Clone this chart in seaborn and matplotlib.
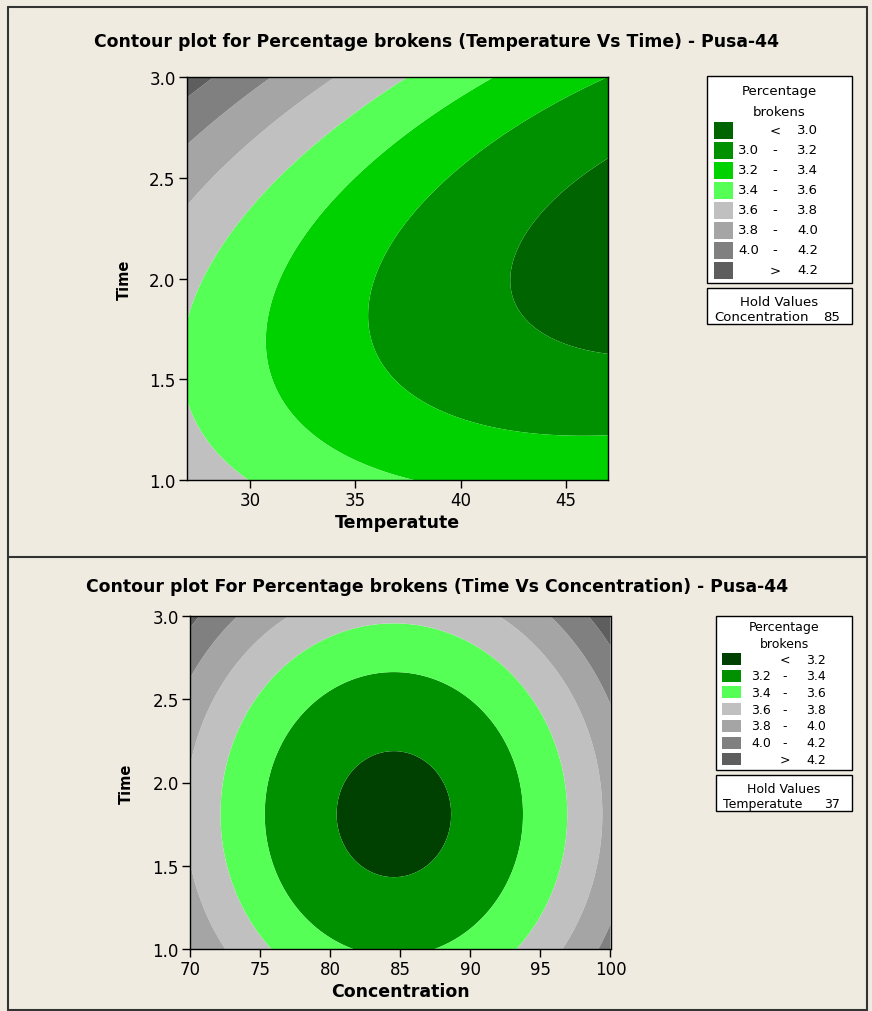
import numpy as np
import matplotlib
matplotlib.use("Agg")
import matplotlib.pyplot as plt
from matplotlib.patches import Rectangle
from matplotlib.lines import Line2D
import seaborn as sns

# ---- response-surface models (coded factors in -1..1) ----
# y = b0 + b1*x1 + b2*x2 + b11*x1^2 + b22*x2^2 + b12*x1*x2
temp_time_coef = [3.159, -0.3635, 0.106, 0.124, 0.360, -0.187]  # x1 = Temperature, x2 = Time
conc_time_coef = [3.164, 0.040, 0.130, 0.660, 0.342, 0.000]     # x1 = Concentration, x2 = Time

temp_limits = [27.0, 47.0]
conc_limits = [70.0, 100.0]
time_limits = [1.0, 3.0]

hold_concentration = 85
hold_temperature = 37

# ---- contour classes ----
top_breaks = [3.0, 3.2, 3.4, 3.6, 3.8, 4.0, 4.2]
top_colors = ["#006400", "#009100", "#00D200", "#55FF55",
              "#C0C0C0", "#A5A5A5", "#808080", "#5E5E5E"]
bottom_breaks = [3.2, 3.4, 3.6, 3.8, 4.0, 4.2]
bottom_colors = ["#004000", "#009100", "#55FF55",
                 "#C0C0C0", "#A5A5A5", "#808080", "#5E5E5E"]

temp_ticks = [30, 35, 40, 45]
conc_ticks = [70, 75, 80, 85, 90, 95, 100]
time_ticks = [1.0, 1.5, 2.0, 2.5, 3.0]

top_title = "Contour plot for Percentage brokens (Temperature Vs Time) - Pusa-44"
bottom_title = "Contour plot For Percentage brokens (Time Vs Concentration) - Pusa-44"

BG = "#EFEBE1"
W, H = 872, 1012

sns.set_theme(style="white")
plt.rcParams["font.family"] = ["DejaVu Sans"]
plt.rcParams["axes.linewidth"] = 1.0
plt.rcParams["text.color"] = "black"
plt.rcParams["axes.labelcolor"] = "black"
plt.rcParams["xtick.color"] = "black"
plt.rcParams["ytick.color"] = "black"

fig = plt.figure(figsize=(W / 100, H / 100), dpi=100, facecolor=BG)


def fx(x):
    return x / W


def fy(y):
    return 1 - y / H


def surface(coef, lim1, lim2, n=400):
    g1 = np.linspace(lim1[0], lim1[1], n)
    g2 = np.linspace(lim2[0], lim2[1], n)
    X1, X2 = np.meshgrid(g1, g2)
    c1 = (lim1[0] + lim1[1]) / 2
    h1 = (lim1[1] - lim1[0]) / 2
    c2 = (lim2[0] + lim2[1]) / 2
    h2 = (lim2[1] - lim2[0]) / 2
    u = (X1 - c1) / h1
    v = (X2 - c2) / h2
    b0, b1, b2, b11, b22, b12 = coef
    Z = b0 + b1 * u + b2 * v + b11 * u ** 2 + b22 * v ** 2 + b12 * u * v
    return X1, X2, Z


def contour_panel(rect, coef, xlim, breaks, colors, xticks, xlabel, ylabel_x):
    ax = fig.add_axes(rect)
    X, Y, Z = surface(coef, xlim, time_limits)
    levels = [min(Z.min(), breaks[0]) - 1] + list(breaks) + [max(Z.max(), breaks[-1]) + 1]
    ax.contourf(X, Y, Z, levels=levels, colors=colors, antialiased=True)
    ax.set_xlim(xlim)
    ax.set_ylim(time_limits)
    ax.set_xticks(xticks)
    ax.set_xticklabels([str(t) for t in xticks])
    ax.set_yticks(time_ticks)
    ax.set_yticklabels([f"{t:.1f}" for t in time_ticks])
    ax.tick_params(axis="both", direction="out", length=6, width=1, colors="black",
                   labelsize=12, pad=2, bottom=True, left=True)
    for s in ax.spines.values():
        s.set_color("black")
        s.set_linewidth(1.0)
    ax.set_xlabel(xlabel, fontsize=12.5, fontweight="bold", labelpad=3)
    ax.set_ylabel("Time", fontsize=10.5, fontweight="bold")
    ax.yaxis.set_label_coords(ylabel_x, 0.5)
    return ax


# top panel : Temperature vs Time
ax1 = contour_panel([fx(186.7), fy(481), (608.3 - 186.7) / W, (481 - 78.3) / H],
                    temp_time_coef, temp_limits, top_breaks, top_colors,
                    temp_ticks, "Temperatute", -0.129)
# bottom panel : Concentration vs Time
ax2 = contour_panel([fx(190), fy(950), (610.5 - 190) / W, (950 - 617) / H],
                    conc_time_coef, conc_limits, bottom_breaks, bottom_colors,
                    conc_ticks, "Concentration", -0.134)

fig.text(fx(436), fy(42), top_title, ha="center", va="center",
         fontsize=12.4, fontweight="bold")
fig.text(fx(437), fy(587), bottom_title, ha="center", va="center",
         fontsize=12.4, fontweight="bold")


def box(x0, y0, x1, y1):
    fig.patches.append(Rectangle((fx(x0), fy(y1)), (x1 - x0) / W, (y1 - y0) / H,
                                 transform=fig.transFigure, facecolor="white",
                                 edgecolor="black", linewidth=1.0, zorder=3))


def legend(x0, y0, x1, y1, head_y, row0, step, sw_h, cols, breaks, colors,
           hold_box, hold_name, hold_value, fs=9.5):
    box(x0, y0, x1, y1)
    cx = (x0 + x1) / 2
    fig.text(fx(cx), fy(head_y[0]), "Percentage", ha="center", va="center", fontsize=fs, zorder=4)
    fig.text(fx(cx), fy(head_y[1]), "brokens", ha="center", va="center", fontsize=fs, zorder=4)
    sw_x, sw_w, left_r, dash_c, right_r = cols
    n = len(colors)
    for i in range(n):
        y = row0 + step * i
        fig.patches.append(Rectangle((fx(sw_x), fy(y + sw_h / 2)), sw_w / W, sw_h / H,
                                     transform=fig.transFigure, facecolor=colors[i],
                                     edgecolor="none", zorder=4))
        if i == 0:
            sym, lo, hi = "<", "", f"{breaks[0]:.1f}"
        elif i == n - 1:
            sym, lo, hi = ">", "", f"{breaks[-1]:.1f}"
        else:
            sym, lo, hi = "-", f"{breaks[i - 1]:.1f}", f"{breaks[i]:.1f}"
        fig.text(fx(left_r), fy(y), lo, ha="right", va="center", fontsize=fs, zorder=5)
        fig.text(fx(dash_c), fy(y), sym, ha="center", va="center", fontsize=fs, zorder=5)
        fig.text(fx(right_r), fy(y), hi, ha="right", va="center", fontsize=fs, zorder=5)
    hx0, hy0, hx1, hy1 = hold_box
    box(hx0, hy0, hx1, hy1)
    fig.text(fx((hx0 + hx1) / 2), fy(hy0 + (hy1 - hy0) * 0.38), "Hold Values",
             ha="center", va="center", fontsize=fs, zorder=5)
    fig.text(fx(hx0 + 7), fy(hy0 + (hy1 - hy0) * 0.8), hold_name,
             ha="left", va="center", fontsize=fs, zorder=5)
    fig.text(fx(hx1 - 12), fy(hy0 + (hy1 - hy0) * 0.8), str(hold_value),
             ha="right", va="center", fontsize=fs, zorder=5)


legend(707, 77, 852, 284, (92, 112), 131, 20, 17,
       (714, 19, 759, 775, 818), top_breaks, top_colors,
       (707, 289, 852, 325), "Concentration", hold_concentration, fs=9.5)
legend(716, 617, 852, 771, (628, 644), 660, 16.7, 12,
       (722, 19, 771, 785, 826), bottom_breaks, bottom_colors,
       (716, 776, 852, 812), "Temperatute", hold_temperature, fs=9)

# panel frames
for seg in [((7.5, 8), (867, 8)), ((7.5, 8), (7.5, 1011)), ((867, 8), (867, 1011)),
            ((7.5, 557.5), (867, 557.5)), ((7.5, 1011), (867, 1011))]:
    (xa, ya), (xb, yb) = seg
    fig.add_artist(Line2D([fx(xa), fx(xb)], [fy(ya), fy(yb)], transform=fig.transFigure,
                          color="#333333", linewidth=1.5))

fig.savefig("out.png", dpi=100, facecolor=BG)
